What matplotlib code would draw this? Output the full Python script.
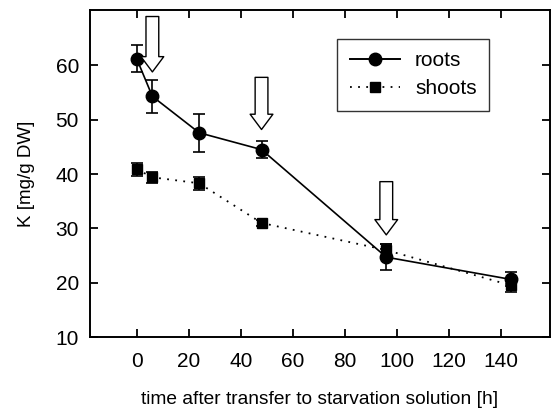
import matplotlib
matplotlib.use("Agg")
import matplotlib.pyplot as plt
from matplotlib.lines import Line2D

plt.rcParams['font.family'] = ['Liberation Sans', 'DejaVu Sans']

# data
time_h = [0, 6, 24, 48, 96, 144]
roots = [61.2, 54.3, 47.6, 44.5, 24.7, 20.6]
roots_err = [2.5, 3.0, 3.5, 1.6, 2.4, 1.3]
shoots = [40.9, 39.4, 38.3, 31.0, 26.0, 19.5]
shoots_err = [1.2, 1.0, 1.2, 0.6, 1.2, 1.2]

# hollow arrows marking medium changes: (x, top, tip)
arrows = [(6, 69.0, 58.8), (48, 57.8, 48.2), (96, 38.6, 28.8)]

fig = plt.figure(figsize=(5.52, 4.19), dpi=100)
ax = fig.add_axes([90 / 552, 1 - 337 / 419, 460 / 552, 327 / 419])

dots = (0, (1, 3.5))
ax.errorbar(time_h, roots, yerr=roots_err, color='black', lw=1.2,
            marker='o', markersize=9, capsize=4.5, elinewidth=1.2,
            capthick=1.2, zorder=3)
ax.errorbar(time_h, shoots, yerr=shoots_err, color='black', lw=1.3,
            ls=dots, marker='s', markersize=7.5, capsize=4.5,
            elinewidth=1.2, capthick=1.2, zorder=3)

for x, top, tip in arrows:
    ax.annotate('', xy=(x, tip), xytext=(x, top),
                arrowprops=dict(arrowstyle='simple,head_length=0.55,head_width=0.82,tail_width=0.46',
                                mutation_scale=20, fc='white', ec='black', lw=1.0,
                                shrinkA=0, shrinkB=0),
                zorder=4)

ax.set_xlim(-18, 159)
ax.set_ylim(10, 70.2)
ax.set_xticks([0, 20, 40, 60, 80, 100, 120, 140])
ax.set_yticks([10, 20, 30, 40, 50, 60])
ax.tick_params(direction='in', length=6, width=1.3, top=True, right=True,
               labeltop=False, labelright=False, labelsize=15)
ax.tick_params(axis='x', pad=11)
ax.tick_params(axis='y', pad=8)
for s in ax.spines.values():
    s.set_linewidth(1.4)

ax.set_xlabel('time after transfer to starvation solution [h]', fontsize=13.8, labelpad=14)
ax.set_ylabel('K [mg/g DW]', fontsize=13.5, labelpad=15)

handles = [Line2D([], [], color='black', lw=1.4, marker='o', markersize=9),
           Line2D([], [], color='black', lw=1.3, ls=dots, marker='s', markersize=7.5)]
leg = ax.legend(handles, ['roots', 'shoots'], loc='upper left',
                bbox_to_anchor=(247 / 460, 1 - 29 / 327), fontsize=15,
                frameon=True, fancybox=False, edgecolor='black', handlelength=2.4,
                handletextpad=0.75, borderpad=0.6, labelspacing=0.42, borderaxespad=0)
leg.get_frame().set_linewidth(1.0)

fig.savefig('out.png', dpi=100)
